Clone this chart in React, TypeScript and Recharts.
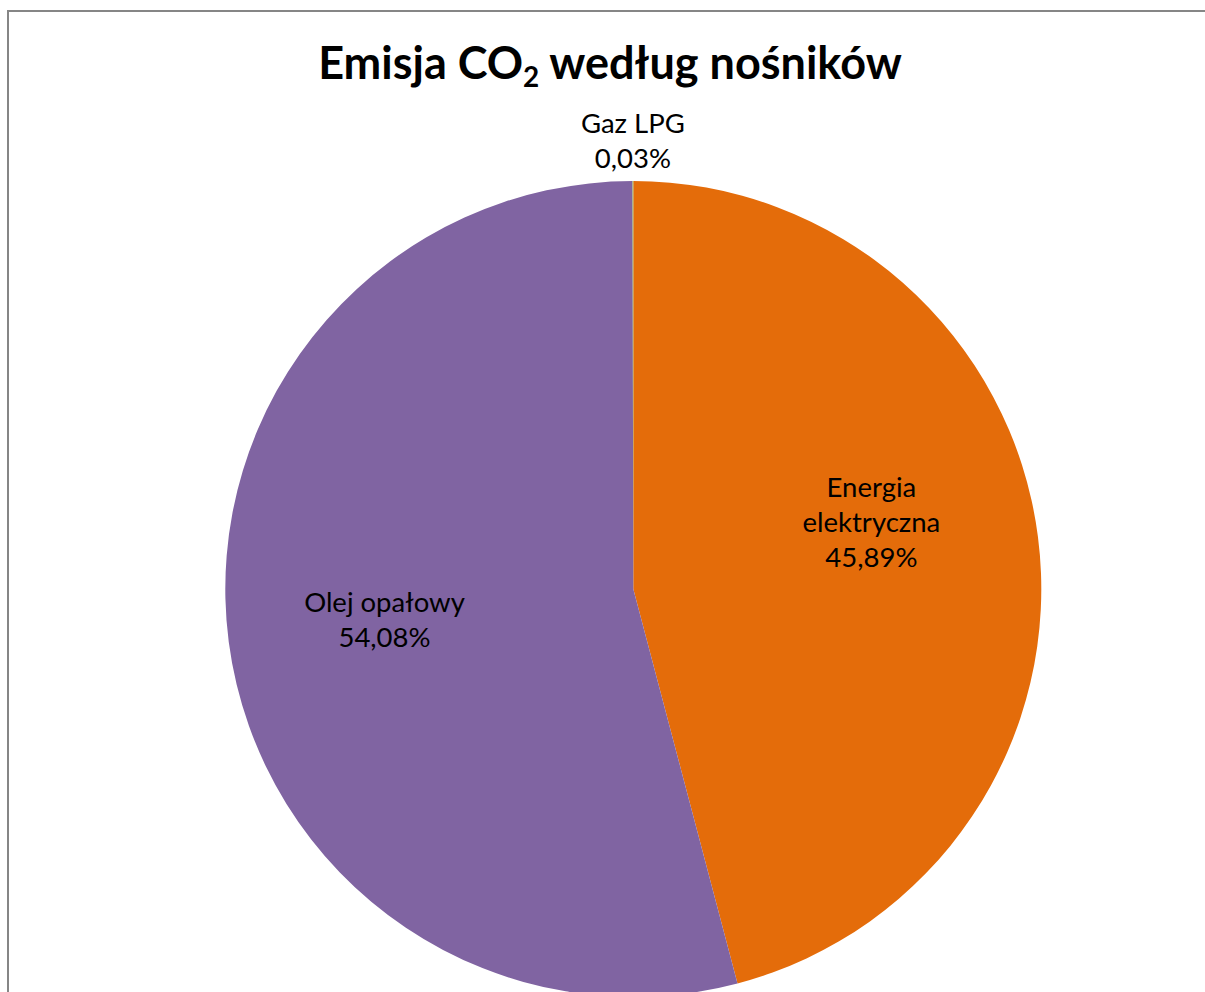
import React from "react";
import { PieChart, Pie, Cell } from "recharts";

const categories = ["Energia elektryczna", "Olej opałowy", "Gaz LPG"];
const shares = [45.89, 54.08, 0.03];
const colors = ["#E46C0A", "#8064A2", "#9BBB59"];
const labelLines = [["Energia", "elektryczna"], ["Olej opałowy"], ["Gaz LPG"]];

const data = categories.map((name, i) => ({ name, value: shares[i] }));

// label placement: fraction of radius and angular shift from the slice's mid angle
const labelLayout = [
  { r: 0.605, shift: 7.9 },
  { r: 0.615, shift: 0 },
  { r: 1.095, shift: 0 },
];

const RAD = Math.PI / 180;
const FONT = "Lato, 'Open Sans', sans-serif";
const LABEL_SIZE = 27.5;
const LINE_H = 35;

const fmt = (v: number) => v.toFixed(2).replace(".", ",") + "%";

const renderLabel = (props: any) => {
  const { cx, cy, midAngle, outerRadius, index } = props;
  const lay = labelLayout[index];
  const ang = (midAngle + lay.shift) * RAD;
  const x = cx + outerRadius * lay.r * Math.cos(-ang);
  const y = cy + outerRadius * lay.r * Math.sin(-ang);
  const lines = [...labelLines[index], fmt(shares[index])];
  const first = y - ((lines.length - 1) / 2) * LINE_H + 8;
  return (
    <text
      key={`lbl-${index}`}
      x={x}
      y={first}
      textAnchor="middle"
      fill="#000000"
      fontFamily={FONT}
      fontSize={LABEL_SIZE}
    >
      {lines.map((t, i) => (
        <tspan key={i} x={x} y={first + i * LINE_H}>
          {t}
        </tspan>
      ))}
    </text>
  );
};

export default function App() {
  return (
    <div
      style={{
        position: "absolute",
        left: 7,
        top: 10,
        width: 1198,
        height: 982,
        borderLeft: "2px solid #868686",
        borderTop: "2px solid #868686",
        background: "#ffffff",
        overflow: "hidden",
      }}
    >
      <div
        style={{
          position: "absolute",
          left: 0,
          top: 28,
          width: 1202,
          textAlign: "center",
          fontFamily: FONT,
          fontWeight: 700,
          fontSize: 45,
          lineHeight: "44px",
          color: "#000000",
          whiteSpace: "nowrap",
        }}
      >
        Emisja CO
        <span style={{ fontSize: "0.62em", position: "relative", top: "0.3em" }}>2</span> według nośników
      </div>
      <PieChart
        width={1196}
        height={980}
        margin={{ top: 0, right: 0, bottom: 0, left: 0 }}
        style={{ position: "absolute", left: 0, top: 0 }}
      >
        <Pie
          data={data}
          dataKey="value"
          nameKey="name"
          cx={624.3}
          cy={577}
          outerRadius={408}
          startAngle={90}
          endAngle={-270}
          stroke="none"
          label={renderLabel}
          labelLine={false}
          isAnimationActive={false}
        >
          {data.map((d, i) => (
            <Cell key={d.name} fill={colors[i]} />
          ))}
        </Pie>
      </PieChart>
    </div>
  );
}
